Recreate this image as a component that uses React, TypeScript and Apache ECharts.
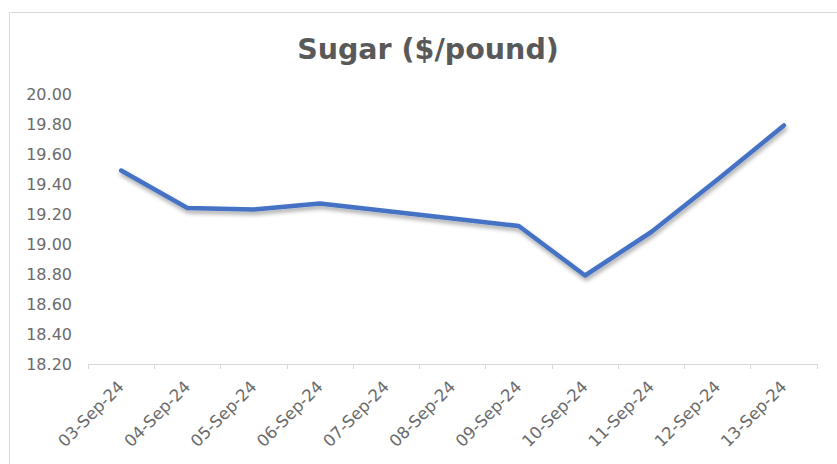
import React, { useEffect, useRef } from "react";
import * as echarts from "echarts";

const categories = [
  "03-Sep-24", "04-Sep-24", "05-Sep-24", "06-Sep-24", "07-Sep-24", "08-Sep-24",
  "09-Sep-24", "10-Sep-24", "11-Sep-24", "12-Sep-24", "13-Sep-24",
];
const sugarValues = [19.49, 19.24, 19.23, 19.27, 19.22, 19.17, 19.12, 18.79, 19.08, 19.43, 19.79];
const yMin = 18.2;
const yMax = 20.0;
const yStep = 0.2;

export default function App() {
  const ref = useRef<HTMLDivElement>(null);
  useEffect(() => {
    document.body.style.margin = "0";
    if (!ref.current) return;
    const chart = echarts.init(ref.current, undefined, { renderer: "svg" });
    const font = "'DejaVu Sans', sans-serif";
    chart.setOption({
      animation: false,
      backgroundColor: "#ffffff",
      title: {
        text: "Sugar ($/pound)",
        left: 423,
        textAlign: "center",
        top: 30,
        textStyle: { fontFamily: font, fontSize: 28.5, fontWeight: "bold", color: "#595959" },
      },
      graphic: [
        {
          type: "rect",
          shape: { x: 9.5, y: 12.5, width: 840, height: 470 },
          style: { fill: "none", stroke: "#d9d9d9", lineWidth: 1 },
          silent: true,
          z: -1,
        },
      ],
      grid: { left: 88, right: 20, top: 94, bottom: 100, containLabel: false },
      xAxis: {
        type: "category",
        data: categories,
        boundaryGap: true,
        axisLine: { show: true, lineStyle: { color: "#d9d9d9", width: 1 } },
        axisTick: { show: true, length: 5, lineStyle: { color: "#d9d9d9" } },
        axisLabel: {
          rotate: 45,
          interval: 0,
          margin: 20,
          fontFamily: font,
          fontSize: 16.5,
          color: "#6b6b6b",
        },
        splitLine: { show: false },
      },
      yAxis: {
        type: "value",
        min: yMin,
        max: yMax,
        interval: yStep,
        axisLine: { show: false },
        axisTick: { show: false },
        splitLine: { show: false },
        axisLabel: {
          formatter: (v: number) => v.toFixed(2),
          fontFamily: font,
          fontSize: 16,
          color: "#6b6b6b",
          margin: 16,
        },
      },
      series: [
        {
          type: "line",
          data: sugarValues,
          showSymbol: false,
          symbol: "none",
          lineStyle: {
            color: "#4472C4",
            width: 4.5,
            cap: "round",
            join: "round",
            shadowColor: "rgba(0,0,0,0.35)",
            shadowBlur: 4,
            shadowOffsetY: 3,
            shadowOffsetX: 1,
          },
        },
      ],
    });
    return () => chart.dispose();
  }, []);
  return <div ref={ref} style={{ width: 837, height: 464 }} />;
}
